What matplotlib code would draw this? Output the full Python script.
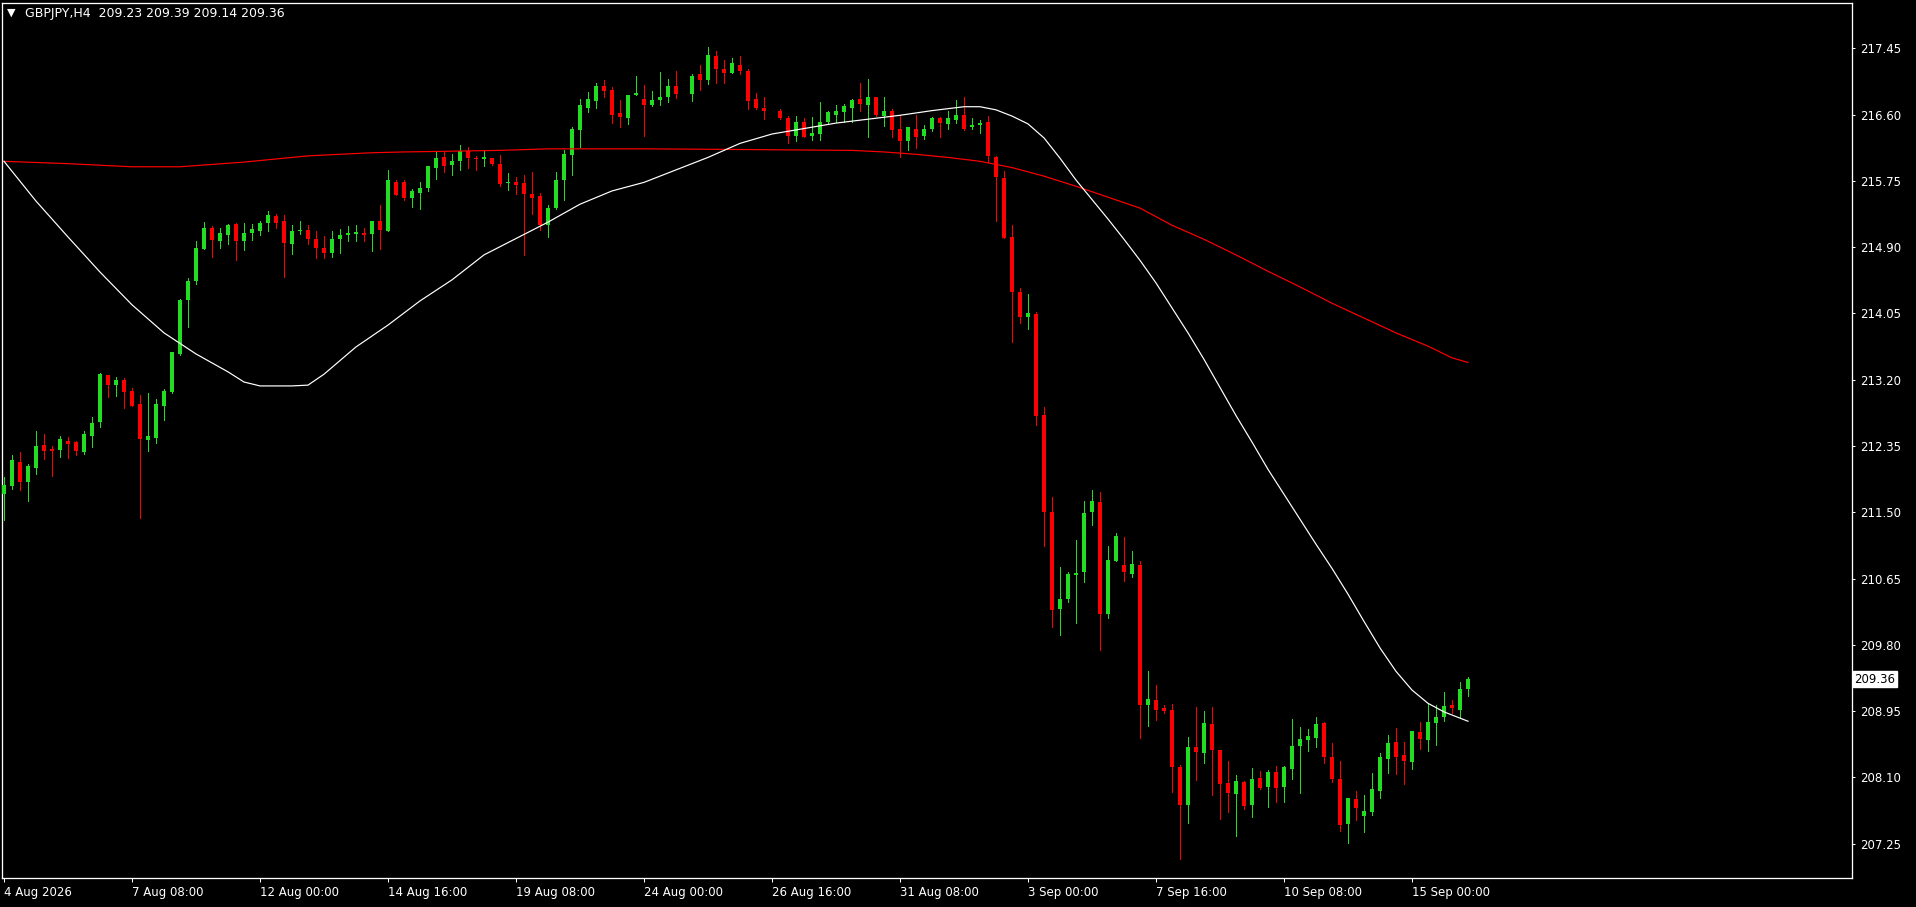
"""
GBPJPY H4 candlestick chart with two moving averages, drawn in the MT4 dark style.
"""

import numpy as np
import matplotlib
matplotlib.use("Agg")
import matplotlib.pyplot as plt
import matplotlib.transforms as mtransforms

# candles (H4 bars), nan = invisible doji bar
opens = [211.74, 211.84, 212.15, 211.89, 212.07, 212.36, 212.31, 212.30, 212.42, 212.40,
         212.27, 212.48, 212.66, 213.26, 213.13, 213.19, 213.05, 212.89, 212.43, 212.45,
         212.86, 213.04, 213.53, 214.22, 214.47, 214.88, 215.15, 214.98, 215.06, 215.19,
         214.98, 215.08, 215.10, 215.21, 215.30, 215.23, 214.94, 215.11, 215.12, 215.01,
         214.89, 214.83, 215.00, 215.05, 215.07, 215.08, 215.07, 215.24, 215.10, 215.74,
         215.74, 215.53, 215.59, 215.66, 215.91, 216.05, 215.95, 216.01, 216.13, 216.04,
         216.03, 216.04, 215.96, 215.72, 215.73, 215.72, 215.58, 215.55, 215.18, 215.40,
         215.76, 216.08, 216.40, 216.69, 216.77, 216.96, 216.92, 216.62, 216.55, 216.85,
         216.80, 216.72, 216.78, 216.82, 216.96, np.nan, 216.86, 217.12, 217.04, 217.35,
         217.19, 217.13, 217.24, 217.16, 216.80, 216.68, np.nan, 216.65, 216.55, 216.33,
         216.51, 216.32, 216.35, 216.50, 216.59, 216.63, 216.68, 216.80, 216.72, 216.82,
         216.58, 216.64, 216.41, 216.26, 216.42, 216.32, 216.41, 216.55, 216.48, 216.53,
         216.60, 216.44, 216.46, 216.50, 216.06, 215.79, 215.03, 214.32, 214.00, 214.04,
         212.75, 211.50, 210.26, 210.39, 210.69, 210.73, 211.50, 211.63, 210.19, 210.88,
         210.82, 210.71, 210.82, 209.03, 209.09, 208.99, 208.97, 208.23, 207.74, 208.49,
         208.41, 208.78, 208.45, 208.03, 207.89, 208.04, 207.74, 208.09, 207.98, 208.17,
         207.98, 208.21, 208.50, 208.58, 208.60, 208.80, 208.36, 208.08, 207.50, 207.82,
         207.60, 207.65, 207.92, 208.33, 208.55, 208.39, 208.30, 208.68, 208.58, 208.80,
         208.88, 209.03, 208.97, 209.23]
highs = [211.95, 212.24, 212.27, 212.12, 212.54, 212.50, 212.35, 212.48, 212.46, 212.42,
         212.54, 212.72, 213.28, 213.26, 213.23, 213.22, 213.09, 213.00, 213.03, 212.95,
         213.08, 213.55, 214.24, 214.50, 214.98, 215.22, 215.17, 215.15, 215.19, 215.21,
         215.21, 215.19, 215.24, 215.36, 215.33, 215.31, 215.18, 215.23, 215.18, 215.10,
         215.04, 215.10, 215.13, 215.17, 215.18, 215.14, 215.24, 215.44, 215.89, 215.76,
         215.76, 215.64, 215.74, 215.94, 216.12, 216.12, 216.09, 216.21, 216.18, 216.07,
         216.15, 216.04, 216.08, 215.85, 215.80, 215.82, 215.86, 215.60, 215.44, 215.86,
         216.15, 216.44, 216.80, 216.89, 217.01, 217.04, 216.95, 216.78, 216.85, 217.10,
         216.98, 216.90, 217.14, 217.05, 217.16, np.nan, 217.12, 217.24, 217.47, 217.42,
         217.30, 217.33, 217.35, 217.19, 216.87, 216.83, np.nan, 216.67, 216.58, 216.58,
         216.55, 216.57, 216.76, 216.65, 216.72, 216.73, 216.80, 217.00, 217.05, 216.82,
         216.83, 216.67, 216.59, 216.44, 216.59, 216.46, 216.57, 216.57, 216.64, 216.78,
         216.82, 216.55, 216.53, 216.58, 216.07, 215.87, 215.18, 214.38, 214.30, 214.07,
         212.85, 211.69, 210.80, 210.73, 211.15, 211.64, 211.78, 211.76, 211.07, 211.23,
         211.18, 211.00, 210.87, 209.46, 209.28, 209.03, 209.04, 208.26, 208.62, 209.00,
         208.95, 209.00, 208.45, 208.31, 208.13, 208.05, 208.22, 208.18, 208.19, 208.24,
         208.24, 208.85, 208.74, 208.72, 208.87, 208.81, 208.54, 208.31, 207.83, 207.92,
         207.87, 208.15, 208.41, 208.64, 208.73, 208.55, 208.69, 208.81, 209.06, 209.03,
         209.19, 209.09, 209.32, 209.39]
lows = [211.40, 211.80, 211.78, 211.65, 211.99, 212.18, 211.96, 212.21, 212.20, 212.24,
        212.25, 212.34, 212.59, 212.98, 212.99, 212.84, 212.86, 211.43, 212.29, 212.39,
        212.68, 213.03, 213.51, 213.88, 214.43, 214.88, 214.77, 214.89, 214.94, 214.74,
        214.86, 214.99, 215.05, 215.10, 215.15, 214.52, 214.81, 215.07, 214.94, 214.76,
        214.76, 214.77, 214.83, 214.98, 214.98, 214.98, 214.85, 214.87, 215.10, 215.57,
        215.50, 215.42, 215.39, 215.62, 215.77, 215.86, 215.83, 215.89, 215.92, 215.89,
        215.94, 215.95, 215.68, 215.63, 215.58, 214.80, 215.33, 215.12, 215.03, 215.39,
        215.50, 215.82, 216.18, 216.63, 216.68, 216.82, 216.49, 216.44, 216.48, 216.85,
        216.32, 216.71, 216.72, 216.76, 216.81, np.nan, 216.77, 216.92, 216.99, 217.01,
        217.01, 217.13, 217.12, 216.67, 216.67, 216.54, np.nan, 216.54, 216.24, 216.26,
        216.31, 216.27, 216.27, 216.48, 216.50, 216.51, 216.51, 216.64, 216.31, 216.58,
        216.45, 216.31, 216.05, 216.15, 216.17, 216.28, 216.39, 216.31, 216.42, 216.49,
        216.40, 216.41, 216.36, 215.99, 215.23, 215.02, 213.68, 213.93, 213.85, 212.62,
        211.07, 210.03, 209.92, 210.35, 210.08, 210.61, 211.34, 209.73, 210.15, 210.88,
        210.62, 210.67, 208.61, 208.76, 208.83, 208.92, 207.91, 207.05, 207.51, 208.07,
        208.28, 207.87, 207.57, 207.65, 207.35, 207.69, 207.59, 207.95, 207.72, 207.78,
        207.78, 208.08, 207.90, 208.44, 208.49, 208.28, 208.04, 207.41, 207.26, 207.55,
        207.40, 207.62, 207.83, 208.15, 208.14, 208.01, 208.21, 208.47, 208.44, 208.51,
        208.82, 208.92, 208.88, 209.14]
closes = [211.85, 212.17, 211.89, 212.09, 212.35, 212.29, 212.29, 212.44, 212.38, 212.29,
          212.50, 212.65, 213.27, 213.13, 213.19, 213.04, 212.86, 212.44, 212.48, 212.89,
          213.05, 213.55, 214.22, 214.46, 214.89, 215.14, 214.99, 215.08, 215.18, 214.98,
          215.08, 215.13, 215.21, 215.31, 215.21, 214.95, 215.10, 215.12, 215.01, 214.89,
          214.82, 215.00, 215.05, 215.08, 215.09, 215.05, 215.23, 215.12, 215.76, 215.57,
          215.53, 215.62, 215.66, 215.94, 216.04, 215.94, 216.01, 216.13, 216.04, 216.03,
          216.05, 215.96, 215.71, 215.74, 215.69, 215.58, 215.53, 215.18, 215.40, 215.76,
          216.09, 216.41, 216.72, 216.80, 216.96, 216.90, 216.59, 216.57, 216.85, 216.87,
          216.72, 216.78, 216.82, 216.96, 216.86, np.nan, 217.10, 217.04, 217.36, 217.18,
          217.13, 217.26, 217.16, 216.77, 216.68, 216.64, np.nan, 216.55, 216.32, 216.50,
          216.31, 216.36, 216.50, 216.63, 216.64, 216.71, 216.78, 216.73, 216.82, 216.59,
          216.65, 216.40, 216.26, 216.44, 216.31, 216.41, 216.55, 216.49, 216.55, 216.59,
          216.42, 216.46, 216.49, 216.07, 215.80, 215.02, 214.32, 214.01, 214.05, 212.73,
          211.50, 210.25, 210.39, 210.71, 210.72, 211.49, 211.64, 210.20, 210.89, 211.19,
          210.73, 210.84, 209.03, 209.10, 208.96, 208.95, 208.23, 207.74, 208.49, 208.42,
          208.80, 208.45, 208.01, 207.90, 208.05, 207.73, 208.08, 207.96, 208.17, 207.96,
          208.23, 208.50, 208.59, 208.63, 208.78, 208.36, 208.08, 207.49, 207.83, 207.71,
          207.67, 207.95, 208.36, 208.54, 208.36, 208.31, 208.69, 208.59, 208.81, 208.88,
          209.01, 208.99, 209.23, 209.36]

# fast moving average (white), read at selected bars
ma_fast_bar = [0, 4, 8, 12, 16, 20, 24, 28, 30, 32, 34, 36, 38, 40, 44, 48, 52, 56, 60, 64,
               68, 72, 76, 80, 84, 88, 92, 96, 100, 104, 108, 112, 116, 120, 122, 124, 126,
               128, 130, 132, 134, 136, 138, 140, 142, 144, 146, 148, 150, 152, 154, 156,
               158, 160, 162, 164, 166, 168, 170, 172, 174, 176, 178, 180, 182, 183]
ma_fast = [216.00, 215.49, 215.03, 214.58, 214.16, 213.80, 213.53, 213.30, 213.17, 213.12,
           213.12, 213.12, 213.13, 213.27, 213.62, 213.90, 214.21, 214.48, 214.80, 215.01,
           215.22, 215.45, 215.62, 215.73, 215.89, 216.05, 216.23, 216.35, 216.42, 216.49,
           216.54, 216.59, 216.65, 216.70, 216.70, 216.66, 216.58, 216.48, 216.30, 216.04,
           215.76, 215.51, 215.26, 215.00, 214.73, 214.44, 214.12, 213.80, 213.46, 213.10,
           212.74, 212.40, 212.05, 211.73, 211.41, 211.09, 210.78, 210.45, 210.10, 209.76,
           209.46, 209.22, 209.05, 208.94, 208.86, 208.82]

# slow moving average (red), read at selected bars
ma_slow_bar = [0, 8, 16, 22, 26, 30, 34, 38, 42, 46, 50, 56, 62, 68, 72, 80, 94, 106, 110,
               114, 118, 122, 126, 130, 134, 138, 142, 146, 150, 154, 158, 162, 166, 170,
               174, 178, 181, 183]
ma_slow = [216.00, 215.97, 215.93, 215.93, 215.96, 215.99, 216.03, 216.07, 216.09, 216.11,
           216.12, 216.13, 216.14, 216.16, 216.16, 216.16, 216.15, 216.14, 216.12, 216.09,
           216.05, 216.00, 215.92, 215.81, 215.68, 215.54, 215.40, 215.18, 215.00, 214.80,
           214.59, 214.39, 214.18, 213.99, 213.80, 213.63, 213.48, 213.42]

# time axis labels, one every 16 bars
date_labels = ["4 Aug 2026", "7 Aug 08:00", "12 Aug 00:00", "14 Aug 16:00", "19 Aug 08:00",
               "24 Aug 00:00", "26 Aug 16:00", "31 Aug 08:00", "3 Sep 00:00", "7 Sep 16:00",
               "10 Sep 08:00", "15 Sep 00:00"]
price_ticks = [207.25, 208.10, 208.95, 209.80, 210.65, 211.50, 212.35, 213.20, 214.05,
               214.90, 215.75, 216.60, 217.45]

BULL = "#22dd22"
BEAR = "#ff0000"
PX = 0.72  # one pixel in points at dpi 100


def main():
    o = np.array(opens)
    h = np.array(highs)
    l = np.array(lows)
    c = np.array(closes)
    x = np.arange(len(o))

    fig = plt.figure(figsize=(19.16, 9.07), dpi=100, facecolor="black")
    ax = fig.add_axes([2 / 1916, 29 / 907, 1850 / 1916, 875 / 907])
    ax.set_facecolor("black")

    ok = ~np.isnan(o)
    up = ok & (c >= o)
    dn = ok & (c < o)

    # wicks
    ax.vlines(x[up], l[up], h[up], color=BULL, lw=PX, antialiased=False, zorder=2)
    ax.vlines(x[dn], l[dn], h[dn], color=BEAR, lw=PX, antialiased=False, zorder=2)

    # bodies, at least one pixel tall
    body = np.maximum(np.abs(c - o), 0.013)
    bottom = np.minimum(o, c)
    ax.bar(x[up], body[up], bottom=bottom[up], width=0.62, color=BULL, lw=0,
           antialiased=False, zorder=3)
    ax.bar(x[dn], body[dn], bottom=bottom[dn], width=0.62, color=BEAR, lw=0,
           antialiased=False, zorder=3)

    # moving averages
    ax.plot(ma_slow_bar, ma_slow, color=BEAR, lw=PX * 1.2, zorder=4)
    ax.plot(ma_fast_bar, ma_fast, color="white", lw=PX * 1.2, zorder=4)

    ax.set_xlim(-0.25, 231)
    ax.set_ylim(206.81, 218.03)

    for s in ax.spines.values():
        s.set_color("white")
        s.set_linewidth(PX * 1.3)

    # price scale on the right
    ax.yaxis.tick_right()
    ax.set_yticks(price_ticks)
    ax.set_yticklabels(["{:.2f}".format(p) for p in price_ticks])
    ax.tick_params(axis="y", colors="white", direction="out", length=2.5, width=PX,
                   pad=3, labelsize=8.5)

    # time scale
    ax.set_xticks(np.arange(len(date_labels)) * 16)
    ax.set_xticklabels(date_labels, ha="left")
    ax.tick_params(axis="x", colors="white", direction="out", length=3, width=PX,
                   pad=3, labelsize=8.5)

    # current price marker
    trans = mtransforms.blended_transform_factory(ax.transAxes, ax.transData)
    ax.text(1.0013, c[-1], "{:.2f}".format(c[-1]), transform=trans, color="black",
            fontsize=8.5, va="center", ha="left", clip_on=False,
            bbox=dict(boxstyle="square,pad=0.15", fc="white", ec="white"))

    # header
    fig.text(7 / 1916, 1 - 13 / 907, "\u25bc", color="white", fontsize=8, va="center")
    fig.text(25 / 1916, 1 - 13 / 907,
             "GBPJPY,H4  {:.2f} {:.2f} {:.2f} {:.2f}".format(o[-1], h[-1], l[-1], c[-1]),
             color="white", fontsize=9, va="center")

    fig.savefig("out.png", dpi=100, facecolor="black")


if __name__ == "__main__":
    main()
